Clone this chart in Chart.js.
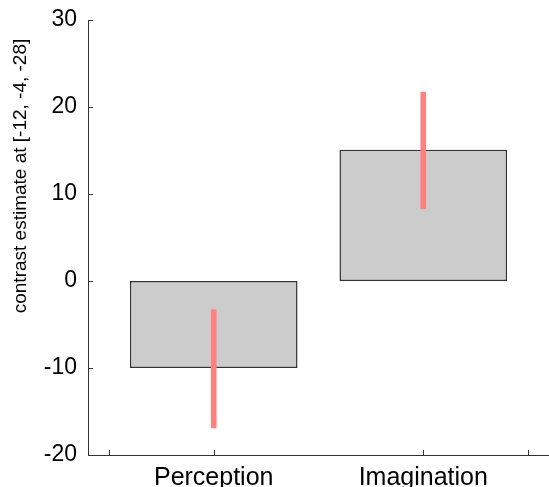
<!DOCTYPE html>
<html>
<head>
<meta charset="utf-8">
<script src="https://cdn.jsdelivr.net/npm/chart.js@4/dist/chart.umd.min.js"></script>
<style>
	html, body { margin: 0; padding: 0; background: #fff; }
	#wrap { width: 549px; height: 487px; }
</style>
</head>
<body>
<div id="wrap"><canvas id="contrastChart"></canvas></div>
<script>
// Данные
const conditions = ['Perception', 'Imagination']
const positions = [1, 2]
const contrastValues = [-10, 15.1]
const errorLow = [-16.9, 8.3]
const errorHigh = [-3.3, 21.7]
const yTicks = [-20, -10, 0, 10, 20, 30]
const xTicks = [0.5, 1, 2, 2.5]
const yLabel = 'contrast estimate at [-12, -4, -28]'

const font = 'Arial, "Liberation Sans", sans-serif'

// Засечки внутрь (как в MATLAB) и подпись оси Y
const matlabAxes = {
	id: 'matlabAxes',
	afterDraw(chart) {
		const { ctx, scales } = chart
		const x = scales.x
		const y = scales.y
		ctx.save()
		ctx.strokeStyle = '#333'
		ctx.lineWidth = 1
		ctx.beginPath()
		yTicks.forEach(v => {
			const py = Math.round(y.getPixelForValue(v)) + 0.5
			ctx.moveTo(x.left, py)
			ctx.lineTo(x.left + 5, py)
		})
		xTicks.forEach(v => {
			const px = Math.round(x.getPixelForValue(v)) + 0.5
			ctx.moveTo(px, y.bottom)
			ctx.lineTo(px, y.bottom - 5)
		})
		ctx.stroke()

		ctx.translate(21, 176)
		ctx.rotate(-Math.PI / 2)
		ctx.fillStyle = '#000'
		ctx.font = '19px ' + font
		ctx.textAlign = 'center'
		ctx.textBaseline = 'middle'
		ctx.fillText(yLabel, 0, 0)
		ctx.restore()
	},
}

new Chart(document.getElementById('contrastChart').getContext('2d'), {
	type: 'bar',
	data: {
		datasets: [
			{
				label: 'error',
				data: positions.map((p, i) => ({ x: p, y: [errorLow[i], errorHigh[i]] })),
				backgroundColor: '#ff8080',
				borderWidth: 0,
				barThickness: 5,
				grouped: false,
			},
			{
				label: 'contrast',
				data: positions.map((p, i) => ({ x: p, y: contrastValues[i] })),
				backgroundColor: '#cccccc',
				borderColor: '#333333',
				borderWidth: 1.5,
				borderSkipped: false,
				categoryPercentage: 1,
				barPercentage: 0.8,
			},
		],
	},
	options: {
		responsive: true,
		maintainAspectRatio: false,
		animation: false,
		layout: { padding: { top: 20, right: 0, left: 0, bottom: 0 } },
		scales: {
			x: {
				type: 'linear',
				offset: false,
				min: 0.4,
				max: 2.6,
				afterBuildTicks: axis => {
					axis.ticks = positions.map(v => ({ value: v }))
				},
				afterFit: axis => {
					axis.height = 32
				},
				ticks: {
					color: '#000',
					font: { family: font, size: 25 },
					padding: 0,
					maxRotation: 0,
					autoSkip: false,
					callback: v => {
						const i = positions.indexOf(v)
						return i >= 0 ? conditions[i] : ''
					},
				},
				grid: { display: false },
				border: { display: true, color: '#333', width: 1 },
			},
			y: {
				min: -20,
				max: 30,
				afterBuildTicks: axis => {
					axis.ticks = yTicks.map(v => ({ value: v }))
				},
				afterFit: axis => {
					axis.width = 88
				},
				ticks: {
					color: '#000',
					font: { family: font, size: 23 },
					padding: 3,
				},
				grid: { display: false },
				border: { display: true, color: '#333', width: 1 },
			},
		},
		plugins: {
			legend: { display: false },
			tooltip: { enabled: false },
		},
	},
	plugins: [matlabAxes],
})
</script>
</body>
</html>
